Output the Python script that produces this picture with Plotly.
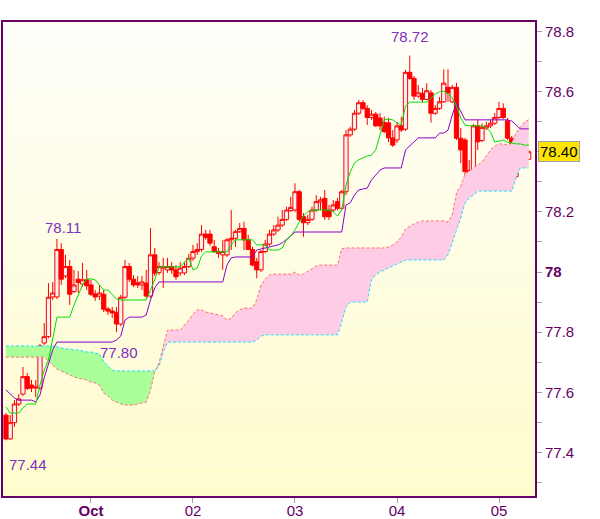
import numpy as np
import pandas as pd
import plotly.graph_objects as go

times = pd.date_range("2012-09-30 04:00", periods=124, freq="h")

opens = [77.524,77.445,77.499,77.561,77.594,77.652,77.624,77.614,77.614,77.764,
 77.785,77.917,77.917,78.075,77.987,78.018,77.935,77.976,77.960,77.974,
 77.957,77.927,77.920,77.926,77.877,77.870,77.866,77.827,77.916,78.018,
 77.976,77.964,77.957,77.963,77.920,78.057,77.998,78.013,78.007,78.018,
 78.007,77.997,77.997,78.018,78.046,78.068,78.075,78.126,78.126,78.084,
 78.068,78.057,78.057,78.107,78.112,78.134,78.145,78.107,78.075,78.034,
 78.007,78.068,78.093,78.126,78.140,78.156,78.175,78.204,78.206,78.267,
 78.184,78.164,78.175,78.206,78.233,78.245,78.206,78.206,78.234,78.212,
 78.267,78.456,78.475,78.528,78.563,78.544,78.514,78.525,78.512,78.497,
 78.496,78.446,78.439,78.486,78.475,78.664,78.644,78.585,78.594,78.574,
 78.596,78.528,78.544,78.566,78.614,78.566,78.614,78.445,78.439,78.337,
 78.334,78.486,78.437,78.479,78.486,78.495,78.514,78.544,78.503,78.445,
 78.317,78.392,78.395,78.375]
highs = [77.531,77.524,77.574,77.594,77.684,77.664,77.641,77.641,77.761,77.830,
 77.963,77.967,78.110,78.096,78.057,78.040,78.007,78.003,78.030,78.007,
 77.974,77.940,77.957,77.940,77.884,77.884,77.884,77.924,78.040,78.030,
 77.990,77.987,77.987,78.007,78.146,78.080,78.033,78.047,78.047,78.033,
 78.023,78.033,78.034,78.060,78.090,78.096,78.156,78.140,78.140,78.107,
 78.080,78.107,78.113,78.206,78.140,78.163,78.167,78.123,78.084,78.047,
 78.073,78.107,78.140,78.156,78.184,78.206,78.217,78.250,78.295,78.273,
 78.196,78.190,78.217,78.256,78.250,78.273,78.223,78.240,78.246,78.273,
 78.472,78.483,78.539,78.572,78.572,78.555,78.539,78.532,78.528,78.517,
 78.512,78.472,78.499,78.516,78.672,78.720,78.652,78.622,78.612,78.628,
 78.605,78.555,78.582,78.674,78.674,78.622,78.629,78.479,78.446,78.373,
 78.492,78.506,78.494,78.499,78.506,78.529,78.566,78.561,78.512,78.452,
 78.406,78.406,78.406,78.406]
lows = [77.440,77.442,77.485,77.554,77.588,77.608,77.601,77.584,77.608,77.757,
 77.780,77.907,77.910,77.957,77.980,77.890,77.930,77.930,77.950,77.940,
 77.920,77.904,77.907,77.867,77.857,77.847,77.800,77.820,77.910,77.967,
 77.950,77.947,77.940,77.914,77.914,77.987,77.990,77.947,77.997,77.993,
 77.974,77.987,77.990,78.013,78.037,78.057,78.067,78.107,78.087,78.063,
 78.047,78.007,78.050,78.073,78.084,78.130,78.073,78.073,78.018,77.979,
 78.000,78.063,78.087,78.120,78.133,78.150,78.170,78.200,78.200,78.170,
 78.117,78.156,78.170,78.200,78.206,78.173,78.173,78.200,78.206,78.206,
 78.256,78.449,78.469,78.522,78.539,78.489,78.506,78.482,78.472,78.462,
 78.432,78.416,78.429,78.466,78.469,78.639,78.572,78.579,78.565,78.572,
 78.497,78.522,78.539,78.562,78.566,78.562,78.439,78.362,78.295,78.306,
 78.326,78.406,78.432,78.472,78.479,78.489,78.509,78.509,78.439,78.278,
 78.313,78.373,78.352,78.373]
closes = [77.445,77.499,77.561,77.578,77.652,77.613,77.614,77.618,77.754,77.785,
 77.916,77.930,78.075,77.976,78.018,77.926,77.957,77.965,77.974,77.954,
 77.926,77.917,77.930,77.876,77.870,77.864,77.827,77.916,78.018,77.976,
 77.957,77.957,77.967,77.920,78.057,77.996,78.018,78.017,78.018,78.007,
 77.984,78.013,78.018,78.046,78.068,78.075,78.126,78.115,78.096,78.068,
 78.062,78.068,78.107,78.112,78.134,78.145,78.107,78.075,78.023,78.007,
 78.068,78.093,78.126,78.140,78.156,78.175,78.206,78.215,78.267,78.175,
 78.164,78.175,78.206,78.234,78.240,78.184,78.184,78.223,78.212,78.267,
 78.456,78.475,78.528,78.563,78.544,78.514,78.525,78.486,78.486,78.467,
 78.446,78.422,78.486,78.472,78.664,78.644,78.585,78.596,78.574,78.603,
 78.528,78.544,78.566,78.628,78.596,78.614,78.445,78.406,78.334,78.326,
 78.486,78.433,78.481,78.486,78.495,78.514,78.544,78.514,78.445,78.317,
 78.389,78.383,78.375,78.400]

tenkan = [77.551,77.531,77.531,77.531,77.548,77.561,77.561,77.561,77.624,77.674,
 77.707,77.774,77.850,77.850,77.850,77.850,77.890,77.924,77.957,77.977,
 77.977,77.974,77.957,77.940,77.940,77.924,77.910,77.907,77.907,77.907,
 77.907,77.907,77.907,77.907,77.940,77.974,78.017,78.017,78.017,78.017,
 78.017,78.017,78.033,78.047,78.007,78.013,78.053,78.067,78.067,78.067,
 78.067,78.067,78.067,78.090,78.107,78.107,78.107,78.107,78.107,78.090,
 78.090,78.090,78.073,78.073,78.073,78.080,78.107,78.120,78.140,78.166,
 78.186,78.200,78.206,78.206,78.206,78.206,78.206,78.200,78.186,78.206,
 78.289,78.333,78.363,78.373,78.379,78.386,78.389,78.406,78.456,78.506,
 78.509,78.506,78.496,78.489,78.552,78.565,78.565,78.565,78.565,78.565,
 78.579,78.592,78.599,78.602,78.592,78.579,78.552,78.512,78.489,78.486,
 78.486,78.486,78.486,78.479,78.466,78.432,78.436,78.439,78.432,78.429,
 78.426,78.426,78.422,78.422]
kijun = [77.608,77.594,77.581,77.574,77.574,77.574,77.574,77.568,77.591,77.648,
 77.691,77.741,77.767,77.767,77.767,77.767,77.767,77.767,77.767,77.767,
 77.767,77.767,77.767,77.767,77.767,77.767,77.774,77.787,77.840,77.850,
 77.850,77.850,77.850,77.857,77.907,77.947,77.967,77.967,77.967,77.967,
 77.967,77.967,77.967,77.967,77.967,77.967,77.967,77.967,77.967,77.967,
 77.967,77.967,78.023,78.047,78.050,78.050,78.050,78.050,78.050,78.073,
 78.076,78.080,78.083,78.087,78.090,78.097,78.107,78.120,78.133,78.133,
 78.133,78.133,78.133,78.133,78.133,78.133,78.133,78.133,78.133,78.133,
 78.223,78.230,78.256,78.273,78.276,78.279,78.306,78.323,78.339,78.346,
 78.346,78.346,78.346,78.346,78.406,78.419,78.432,78.446,78.446,78.446,
 78.446,78.446,78.462,78.462,78.472,78.522,78.562,78.532,78.506,78.506,
 78.506,78.506,78.506,78.506,78.506,78.506,78.506,78.506,78.506,78.502,
 78.489,78.476,78.476,78.476]
span_a = [77.717,77.717,77.717,77.717,77.717,77.717,77.717,77.717,77.717,77.717,
 77.704,77.691,77.677,77.671,77.664,77.657,77.651,77.647,77.644,77.641,
 77.634,77.631,77.624,77.598,77.588,77.574,77.568,77.561,77.558,77.558,
 77.558,77.561,77.564,77.568,77.608,77.667,77.697,77.757,77.807,77.807,
 77.807,77.807,77.824,77.840,77.860,77.874,77.874,77.867,77.864,77.860,
 77.857,77.854,77.840,77.847,77.864,77.874,77.880,77.880,77.880,77.907,
 77.957,77.977,77.990,77.993,77.993,77.993,77.993,77.993,78.000,77.990,
 77.993,78.003,78.013,78.020,78.023,78.023,78.023,78.023,78.023,78.077,
 78.080,78.080,78.080,78.080,78.080,78.080,78.080,78.080,78.080,78.080,
 78.083,78.090,78.100,78.116,78.143,78.153,78.160,78.166,78.170,78.170,
 78.170,78.170,78.170,78.170,78.166,78.190,78.263,78.286,78.326,78.336,
 78.346,78.356,78.366,78.386,78.406,78.419,78.426,78.426,78.422,78.429,
 78.462,78.482,78.499,78.506]
span_b = [77.754,77.754,77.754,77.754,77.754,77.754,77.754,77.754,77.754,77.754,
 77.754,77.754,77.751,77.747,77.744,77.744,77.741,77.741,77.737,77.734,
 77.734,77.731,77.727,77.704,77.687,77.674,77.671,77.671,77.671,77.671,
 77.671,77.671,77.671,77.671,77.671,77.671,77.687,77.734,77.767,77.767,
 77.767,77.767,77.767,77.767,77.767,77.767,77.767,77.767,77.767,77.767,
 77.767,77.767,77.767,77.767,77.767,77.767,77.767,77.767,77.767,77.774,
 77.787,77.791,77.791,77.791,77.791,77.791,77.791,77.791,77.791,77.791,
 77.791,77.791,77.791,77.791,77.791,77.791,77.791,77.791,77.791,77.834,
 77.884,77.900,77.900,77.900,77.900,77.900,77.974,77.990,78.000,78.007,
 78.013,78.020,78.027,78.033,78.040,78.040,78.040,78.040,78.040,78.040,
 78.040,78.040,78.040,78.040,78.057,78.097,78.133,78.180,78.230,78.246,
 78.256,78.269,78.269,78.269,78.269,78.269,78.269,78.269,78.269,78.269,
 78.313,78.346,78.346,78.346]

y_tickvals = [77.4, 77.6, 77.8, 78.0, 78.2, 78.4, 78.6, 78.8]
# the 78.4 label sits under the last-price box, as in the reference
y_ticktext = ["77.4", "77.6", "77.8", "<b>78</b>", "78.2", "", "78.6", "78.8"]
y_minor = [77.3, 77.5, 77.7, 77.9, 78.1, 78.3, 78.5, 78.7]
x_tickvals = ["2012-10-01", "2012-10-02", "2012-10-03", "2012-10-04", "2012-10-05"]
x_ticktext = ["<b>Oct</b>", "02", "03", "04", "05"]
last_price = 78.40

FONT = "Liberation Sans, Arial, sans-serif"
AXC = "#660066"
LBL = "#8030C0"

upper = np.maximum(np.array(span_a), np.array(span_b))

fig = go.Figure()
fig.add_trace(go.Scatter(x=times, y=span_b, mode="lines", line=dict(width=0), hoverinfo="skip", showlegend=False))
fig.add_trace(go.Scatter(x=times, y=upper, mode="lines", line=dict(width=0), fill="tonexty",
                         fillcolor="#FFCCE6", hoverinfo="skip", showlegend=False))
fig.add_trace(go.Scatter(x=times, y=span_a, mode="lines", line=dict(width=0), hoverinfo="skip", showlegend=False))
fig.add_trace(go.Scatter(x=times, y=upper, mode="lines", line=dict(width=0), fill="tonexty",
                         fillcolor="#AAFF99", hoverinfo="skip", showlegend=False))
fig.add_trace(go.Scatter(x=times, y=span_a, mode="lines", line=dict(color="#FF6F6F", width=1, dash="3px,2px"),
                         hoverinfo="skip", showlegend=False))
fig.add_trace(go.Scatter(x=times, y=span_b, mode="lines", line=dict(color="#22DDFF", width=1, dash="3px,2px"),
                         hoverinfo="skip", showlegend=False))
fig.add_trace(go.Candlestick(x=times, open=opens, high=highs, low=lows, close=closes,
                             increasing=dict(line=dict(color="#FF0000", width=1), fillcolor="#F2F2F2"),
                             decreasing=dict(line=dict(color="#FF0000", width=1), fillcolor="#FF0000"),
                             whiskerwidth=0, hoverinfo="skip", showlegend=False))
fig.add_trace(go.Scatter(x=times, y=kijun, mode="lines", line=dict(color="#8800CC", width=1),
                         hoverinfo="skip", showlegend=False))
fig.add_trace(go.Scatter(x=times, y=tenkan, mode="lines", line=dict(color="#00DD00", width=1),
                         hoverinfo="skip", showlegend=False))

# background gradient
shapes = []
n = 60
top = np.array([255, 255, 250])
bot = np.array([255, 252, 204])
for i in range(n):
    f = (i + 0.5) / n
    c = bot * (1 - f) + top * f
    shapes.append(dict(type="rect", xref="paper", yref="paper", x0=0, x1=1, y0=i / n, y1=(i + 1) / n,
                       fillcolor="rgb(%d,%d,%d)" % tuple(c), line=dict(width=0), layer="below"))

hi_idx = int(np.argmax(highs))
lo_idx = int(np.argmin(lows))
hi2 = 12
lo2 = 26
annotations = [
    dict(x=times[hi_idx], y=highs[hi_idx], text="%.2f" % highs[hi_idx], showarrow=False, yshift=19,
         font=dict(family=FONT, size=15, color=LBL)),
    dict(x=times[hi2], y=highs[hi2], text="%.2f" % highs[hi2], showarrow=False, xshift=6, yshift=11,
         font=dict(family=FONT, size=15, color=LBL)),
    dict(x=times[lo2], y=lows[lo2], text="%.2f" % lows[lo2], showarrow=False, xshift=3, yshift=-20,
         font=dict(family=FONT, size=15, color=LBL)),
    dict(x=times[lo_idx], y=lows[lo_idx], text="%.2f" % lows[lo_idx], showarrow=False, xshift=22, yshift=-24,
         font=dict(family=FONT, size=15, color=LBL)),
    dict(xref="paper", x=1.0056, xanchor="left", y=last_price, yref="y", text="%.2f" % last_price,
         showarrow=False, bgcolor="#FFE400", bordercolor="#9AA0B0", borderwidth=1, borderpad=1,
         font=dict(family=FONT, size=15, color="#000000")),
]

x0 = times[0] - pd.Timedelta(minutes=42)
x1 = times[0] + pd.Timedelta(hours=124.47)

fig.update_layout(
    width=600, height=519,
    margin=dict(l=3, r=65, t=22, b=23, autoexpand=False),
    paper_bgcolor="white", plot_bgcolor="white",
    boxgap=0.0, boxgroupgap=0.0,
    shapes=shapes, annotations=annotations, showlegend=False,
    font=dict(family=FONT, size=15, color=AXC),
    xaxis=dict(range=[x0, x1], type="date", rangeslider=dict(visible=False), automargin=False,
               tickmode="array", tickvals=x_tickvals, ticktext=x_ticktext,
               showgrid=False, zeroline=False, showline=True, mirror=True, linecolor=AXC, linewidth=2,
               ticks="outside", ticklen=5, tickcolor="#A0A0A0", ticklabelstandoff=-5,
               tickfont=dict(family=FONT, size=15, color=AXC)),
    yaxis=dict(range=[77.2551, 78.8314], side="right", automargin=False,
               tickmode="array", tickvals=y_tickvals, ticktext=y_ticktext,
               showgrid=False, zeroline=False, showline=True, mirror=True, linecolor=AXC, linewidth=2,
               ticks="outside", ticklen=5, tickcolor="#A0A0A0",
               minor=dict(tickmode="array", tickvals=y_minor, ticks="outside", ticklen=5, tickcolor="#A0A0A0"),
               tickfont=dict(family=FONT, size=15, color=AXC)),
)

fig.write_html("out.html", config={"displayModeBar": False},
               post_script="document.body.style.margin='0';document.body.style.padding='0';")
